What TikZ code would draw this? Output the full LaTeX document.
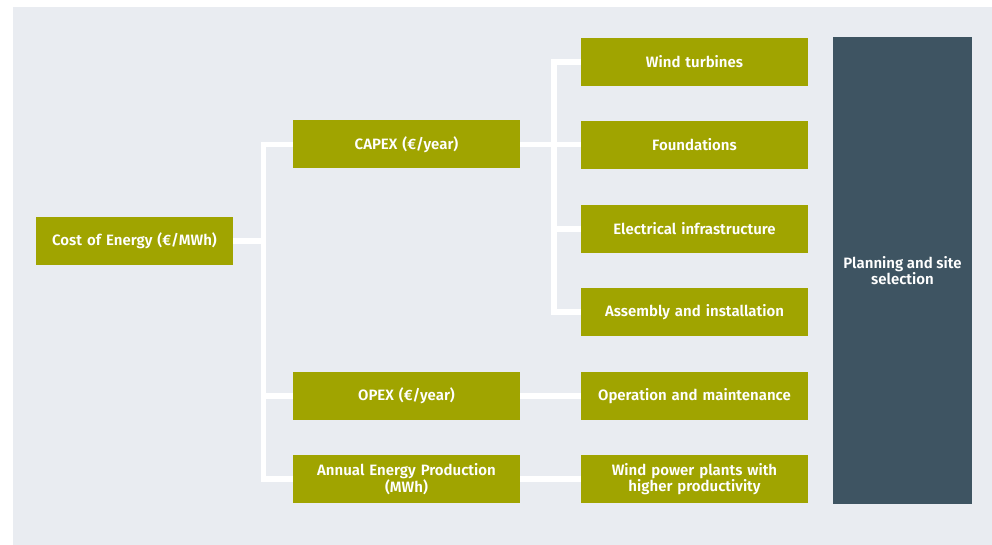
\documentclass[tikz,border=0pt]{standalone}
\usepackage{fontspec}
\setmainfont{Fira Sans}[BoldFont={Fira Sans SemiBold}]
\definecolor{panel}{HTML}{E9ECF1}
\definecolor{olive}{HTML}{A0A400}
\definecolor{slate}{HTML}{3E5462}
\begin{document}
\begin{tikzpicture}[x=1pt,y=-1pt,
  box/.style={fill=olive, text=white, minimum height=48pt, inner sep=2pt,
    align=center, font=\fontsize{15}{14.3}\selectfont\bfseries},
  wide/.style={box, minimum width=227pt, text width=220pt},
  link/.style={draw=white, line width=5.5pt, line cap=butt, line join=miter}]
  % page and panel
  \useasboundingbox (0,0) rectangle (992,545);
  \fill[panel] (13,7) rectangle (992,545);

  % root
  \node[box, minimum width=197pt, text width=190pt] (coe) at (134.5,241) {Cost of Energy (€/MWh)};

  % second level
  \node[wide] (capex) at (406.5,144.5) {CAPEX (€/year)};
  \node[wide] (opex)  at (406.5,396) {OPEX (€/year)};
  \node[wide] (aep)   at (406.5,479) {Annual Energy Production\\(MWh)};

  % third level
  \node[wide] (wt) at (694.5,62)  {Wind turbines};
  \node[wide] (fd) at (694.5,145) {Foundations};
  \node[wide] (el) at (694.5,229) {Electrical infrastructure};
  \node[wide] (as) at (694.5,312) {Assembly and installation};
  \node[wide] (om) at (694.5,396) {Operation and maintenance};
  \node[wide] (wp) at (694.5,479) {Wind power plants with\\higher productivity};

  % side bar
  \node[fill=slate, text=white, minimum width=139pt, minimum height=466pt,
    inner sep=0pt, align=center, font=\fontsize{15}{14.3}\selectfont\bfseries]
    (ps) at (902.5,270.5) {Planning and site\\selection};

  % trunks
  \coordinate (t1) at (263.5,0);
  \coordinate (t2) at (554,0);

  % connectors from the root
  \draw[link] (coe.east) -- (coe.east -| t1);
  \draw[link] (capex.west) -- (capex.west -| t1) -- (aep.west -| t1) -- (aep.west);
  \draw[link] (opex.west) -- (opex.west -| t1);

  % connectors from CAPEX
  \draw[link] (capex.east) -- (capex.east -| fd.west);
  \draw[link] (wt.west) -- (wt.west -| t2) -- (as.west -| t2) -- (as.west);
  \draw[link] (el.west) -- (el.west -| t2);

  % single links
  \draw[link] (opex.east) -- (om.west);
  \draw[link] (aep.east) -- (wp.west);
\end{tikzpicture}
\end{document}
